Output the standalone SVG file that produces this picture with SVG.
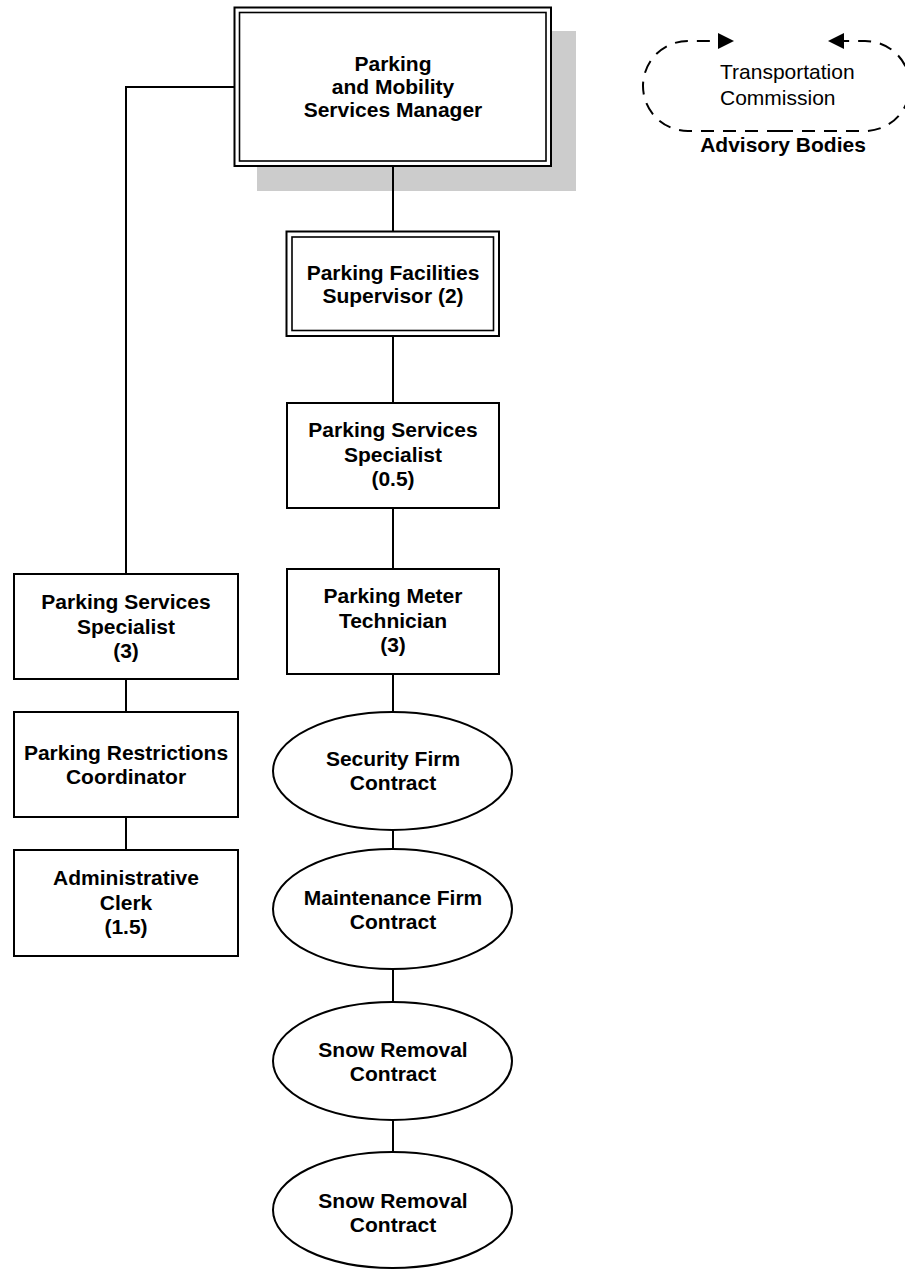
<svg xmlns="http://www.w3.org/2000/svg" width="905" height="1269" viewBox="0 0 905 1269">
<style>
.box{fill:#fff;stroke:#000;stroke-width:2}
.inner{fill:none;stroke:#000;stroke-width:1.6}
.conn{fill:none;stroke:#000;stroke-width:2}
.dash{fill:none;stroke:#000;stroke-width:2;stroke-dasharray:13 9}
.lbl{font-family:"Liberation Sans",Arial,sans-serif;font-size:21px;font-weight:bold;text-anchor:middle;fill:#000}
.reg{font-family:"Liberation Sans",Arial,sans-serif;font-size:21px;fill:#000}
</style>
<defs>
<marker id="arr" markerUnits="userSpaceOnUse" markerWidth="16" markerHeight="16" refX="16" refY="8" orient="auto">
<path d="M0,0 L16,8 L0,16 z" fill="#000"/>
</marker>
</defs>
<rect width="905" height="1269" fill="#fff"/>
<rect x="257" y="31" width="319" height="160" fill="#cccccc"/>
<g id="connectors">
<polyline class="conn" points="234.5,87 126,87 126,574"/>
<line class="conn" x1="393" y1="166" x2="393" y2="232"/>
<line class="conn" x1="393" y1="336" x2="393" y2="403"/>
<line class="conn" x1="393" y1="508" x2="393" y2="569"/>
<line class="conn" x1="393" y1="674" x2="393" y2="712"/>
<line class="conn" x1="393" y1="830" x2="393" y2="849"/>
<line class="conn" x1="393" y1="969" x2="393" y2="1002"/>
<line class="conn" x1="393" y1="1120" x2="393" y2="1152"/>
<line class="conn" x1="126" y1="679" x2="126" y2="712"/>
<line class="conn" x1="126" y1="817" x2="126" y2="850"/>
</g>
<g id="manager">
<rect class="box" x="234.5" y="7.5" width="316.5" height="158.5"/>
<rect class="inner" x="239.5" y="12.5" width="306.5" height="148.5"/>
<text class="lbl" x="393" y="71">Parking</text>
<text class="lbl" x="393" y="94">and Mobility</text>
<text class="lbl" x="393" y="117">Services Manager</text>
</g>
<g id="supervisor">
<rect class="box" x="286.5" y="231.5" width="212.5" height="104.5"/>
<rect class="inner" x="292" y="237" width="201.5" height="93.5"/>
<text class="lbl" x="393" y="280">Parking Facilities</text>
<text class="lbl" x="393" y="303">Supervisor (2)</text>
</g>
<g id="specialist05">
<rect class="box" x="287" y="403" width="212" height="105"/>
<text class="lbl" x="393" y="437">Parking Services</text>
<text class="lbl" x="393" y="462">Specialist</text>
<text class="lbl" x="393" y="486">(0.5)</text>
</g>
<g id="metertech">
<rect class="box" x="287" y="569" width="212" height="105"/>
<text class="lbl" x="393" y="603">Parking Meter</text>
<text class="lbl" x="393" y="628">Technician</text>
<text class="lbl" x="393" y="652">(3)</text>
</g>
<g id="security">
<ellipse class="box" cx="392.5" cy="771" rx="119.5" ry="59"/>
<text class="lbl" x="393" y="766">Security Firm</text>
<text class="lbl" x="393" y="790">Contract</text>
</g>
<g id="maintenance">
<ellipse class="box" cx="392.5" cy="909" rx="119.5" ry="60"/>
<text class="lbl" x="393" y="905">Maintenance Firm</text>
<text class="lbl" x="393" y="929">Contract</text>
</g>
<g id="snow1">
<ellipse class="box" cx="392.5" cy="1061" rx="119.5" ry="59"/>
<text class="lbl" x="393" y="1057">Snow Removal</text>
<text class="lbl" x="393" y="1081">Contract</text>
</g>
<g id="snow2">
<ellipse class="box" cx="392.5" cy="1210" rx="119.5" ry="58"/>
<text class="lbl" x="393" y="1208">Snow Removal</text>
<text class="lbl" x="393" y="1232">Contract</text>
</g>
<g id="specialist3">
<rect class="box" x="14" y="574" width="224" height="105"/>
<text class="lbl" x="126" y="609">Parking Services</text>
<text class="lbl" x="126" y="634">Specialist</text>
<text class="lbl" x="126" y="658">(3)</text>
</g>
<g id="restrictions">
<rect class="box" x="14" y="712" width="224" height="105"/>
<text class="lbl" x="126" y="760">Parking Restrictions</text>
<text class="lbl" x="126" y="784">Coordinator</text>
</g>
<g id="clerk">
<rect class="box" x="14" y="850" width="224" height="106"/>
<text class="lbl" x="126" y="885">Administrative</text>
<text class="lbl" x="126" y="910">Clerk</text>
<text class="lbl" x="126" y="934">(1.5)</text>
</g>
<g id="advisory">
<path class="dash" d="M780 131 H688 A45 45 0 0 1 643 86 A45 45 0 0 1 688 41 H734" marker-end="url(#arr)"/>
<path class="dash" d="M780 131 H865 A45 45 0 0 0 910 86 A45 45 0 0 0 865 41 H828" marker-end="url(#arr)"/>
<text class="reg" x="720" y="79">Transportation</text>
<text class="reg" x="720" y="105">Commission</text>
<text class="lbl" x="783" y="152">Advisory Bodies</text>
</g>
</svg>
